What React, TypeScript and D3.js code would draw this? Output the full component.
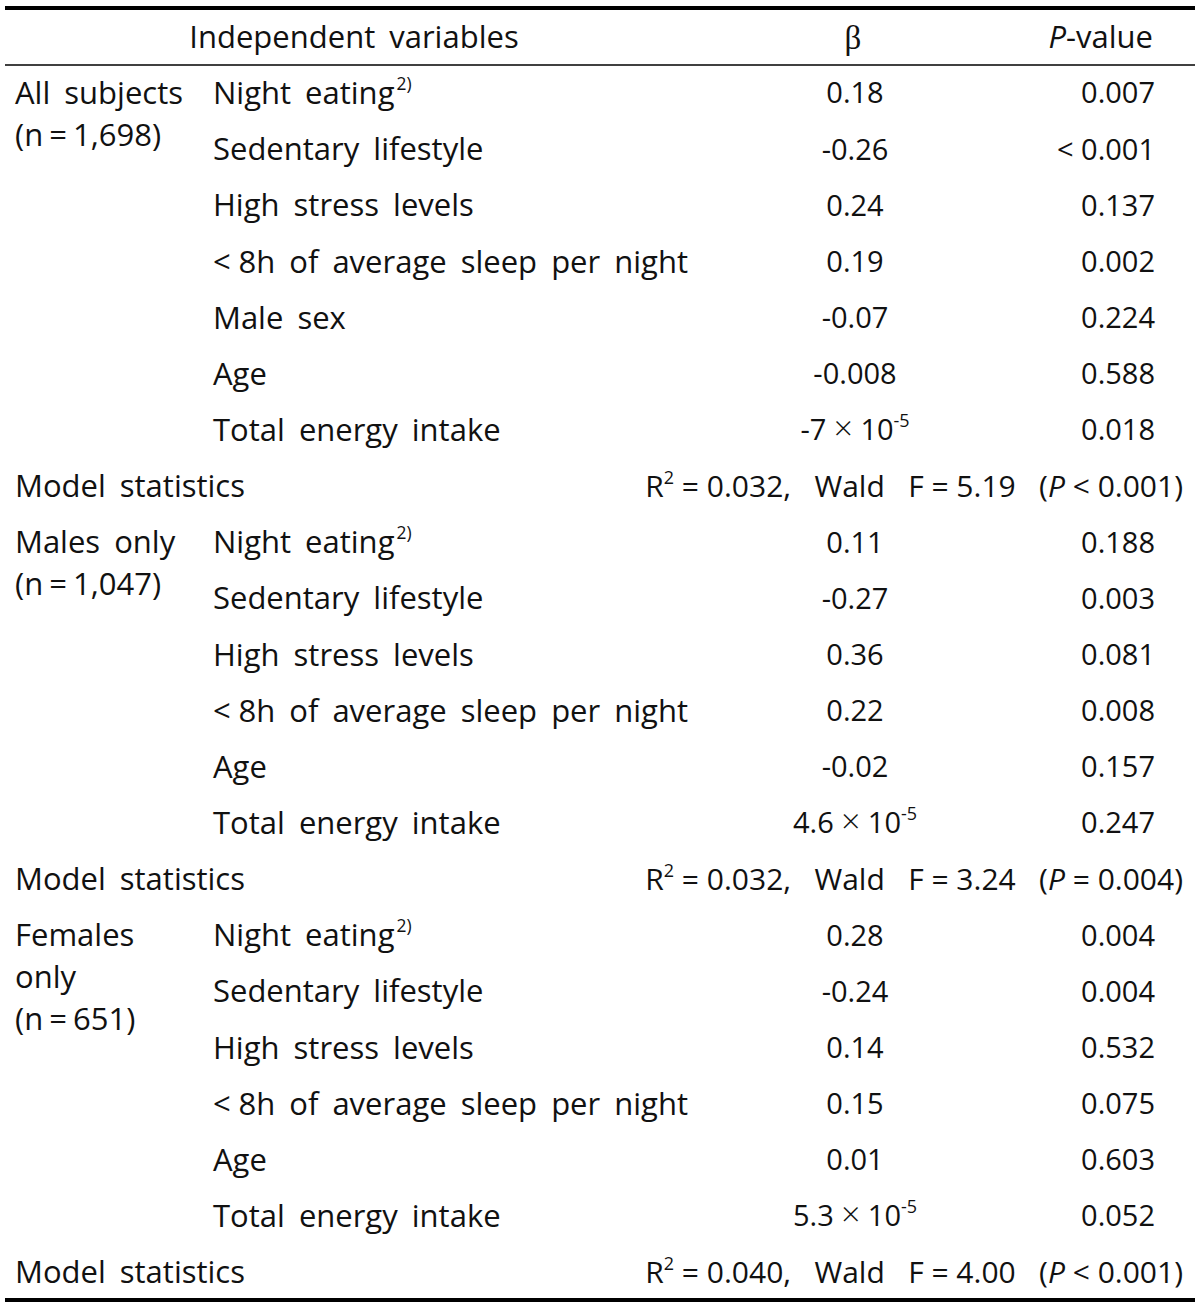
import React from "react";
import * as d3 from "d3";

const groupLabels = [
  ["All subjects", "(n = 1,698)"],
  ["Males only", "(n = 1,047)"],
  ["Females", "only", "(n = 651)"],
];
const variables = [
  ["Night eating", "Sedentary lifestyle", "High stress levels", "<\u20058h of average sleep per night", "Male sex", "Age", "Total energy intake"],
  ["Night eating", "Sedentary lifestyle", "High stress levels", "<\u20058h of average sleep per night", "Age", "Total energy intake"],
  ["Night eating", "Sedentary lifestyle", "High stress levels", "<\u20058h of average sleep per night", "Age", "Total energy intake"],
];
const betas = [
  ["0.18", "-0.26", "0.24", "0.19", "-0.07", "-0.008", "-7|10|-5"],
  ["0.11", "-0.27", "0.36", "0.22", "-0.02", "4.6|10|-5"],
  ["0.28", "-0.24", "0.14", "0.15", "0.01", "5.3|10|-5"],
];
const pvalues = [
  ["0.007", "< 0.001", "0.137", "0.002", "0.224", "0.588", "0.018"],
  ["0.188", "0.003", "0.081", "0.008", "0.157", "0.247"],
  ["0.004", "0.004", "0.532", "0.075", "0.603", "0.052"],
];
const modelR2 = ["0.032", "0.032", "0.040"];
const modelF = ["5.19", "3.24", "4.00"];
const modelP = ["< 0.001", "= 0.004", "< 0.001"];

const W = 1200;
const H = 1307;
const FONT = "'Open Sans', 'Noto Sans', sans-serif";
const FS = 29; // numbers
const FL = 31; // labels

export default function App() {
  type Row = { kind: "var" | "model"; g: number; i: number };
  const rows: Row[] = [];
  variables.forEach((vs, g) => {
    vs.forEach((_, i) => rows.push({ kind: "var", g, i }));
    rows.push({ kind: "model", g, i: -1 });
  });
  const y = d3.scaleLinear().domain([0, rows.length - 1]).range([93, 1272]);
  const firstRow: number[] = [];
  rows.forEach((r, k) => {
    if (r.kind === "var" && r.i === 0) firstRow[r.g] = k;
  });

  const xGroup = 15;
  const xVar = 213;
  const xBeta = 855;
  const xP = 1155;
  const xModel = 1183;
  const dy = "0.36em";

  const renderBeta = (s: string) => {
    const parts = s.split("|");
    if (parts.length === 1) return s;
    const [mant, base, sup] = parts;
    return (
      <>
        {mant + " "}
        <tspan fontSize={FS * 1.15} fontWeight={300}>×</tspan>
        {" " + base}
        <tspan fontSize={FS * 0.62} dy={-FS * 0.45}>{sup}</tspan>
      </>
    );
  };

  return (
    <svg width={W} height={H} style={{ position: "absolute", left: 0, top: 0, background: "#fff" }} fontFamily={FONT} fontSize={FS} fill="#111">
      <rect x={0} y={0} width={W} height={H} fill="#fff" />
      <line x1={5} x2={1195} y1={8} y2={8} stroke="#000" strokeWidth={4} />
      <line x1={5} x2={1195} y1={65} y2={65} stroke="#000" strokeWidth={1.5} />
      <line x1={5} x2={1195} y1={1300} y2={1300} stroke="#000" strokeWidth={4} />

      <text x={354} y={37} dy={dy} textAnchor="middle" wordSpacing={6} fontSize={FL}>Independent variables</text>
      <text x={853} y={37} dy={dy} textAnchor="middle" fontFamily="'Liberation Serif', serif" fontSize={33}>β</text>
      <text x={1153} y={37} dy={dy} textAnchor="end" fontSize={FL}>
        <tspan fontStyle="italic">P</tspan>-value
      </text>

      {groupLabels.map((lines, g) =>
        lines.map((l, j) => (
          <text
            key={"g" + g + "_" + j}
            x={xGroup}
            y={y(firstRow[g]) + j * 42}
            dy={dy}
            fontSize={FL}
            wordSpacing={l.startsWith("(") ? -2 : 6}
          >
            {l}
          </text>
        ))
      )}

      {rows.map((r, k) => {
        const yy = y(k);
        if (r.kind === "var") {
          const name = variables[r.g][r.i];
          return (
            <g key={k}>
              <text x={xVar} y={yy} dy={dy} wordSpacing={6} fontSize={FL}>
                {name}
                {r.i === 0 && <tspan fontSize={FS * 0.6} dx={2} dy={-FS * 0.5}>2)</tspan>}
              </text>
              <text x={xBeta} y={yy} dy={dy} textAnchor="middle">{renderBeta(betas[r.g][r.i])}</text>
              <text x={xP} y={yy} dy={dy} textAnchor="end">{pvalues[r.g][r.i]}</text>
            </g>
          );
        }
        return (
          <g key={k}>
            <text x={xGroup} y={yy} dy={dy} wordSpacing={6} fontSize={FL}>Model statistics</text>
            <text x={xModel} y={yy} dy={dy} textAnchor="end" fontSize={30} style={{ whiteSpace: "pre" }}>
              R<tspan fontSize={FS * 0.62} dy={-FS * 0.45}>2</tspan>
              <tspan dy={FS * 0.45}>{" = " + modelR2[r.g] + ",   Wald   F = " + modelF[r.g] + "   ("}</tspan>
              <tspan fontStyle="italic">P</tspan>
              {" " + modelP[r.g] + ")"}
            </text>
          </g>
        );
      })}
    </svg>
  );
}
